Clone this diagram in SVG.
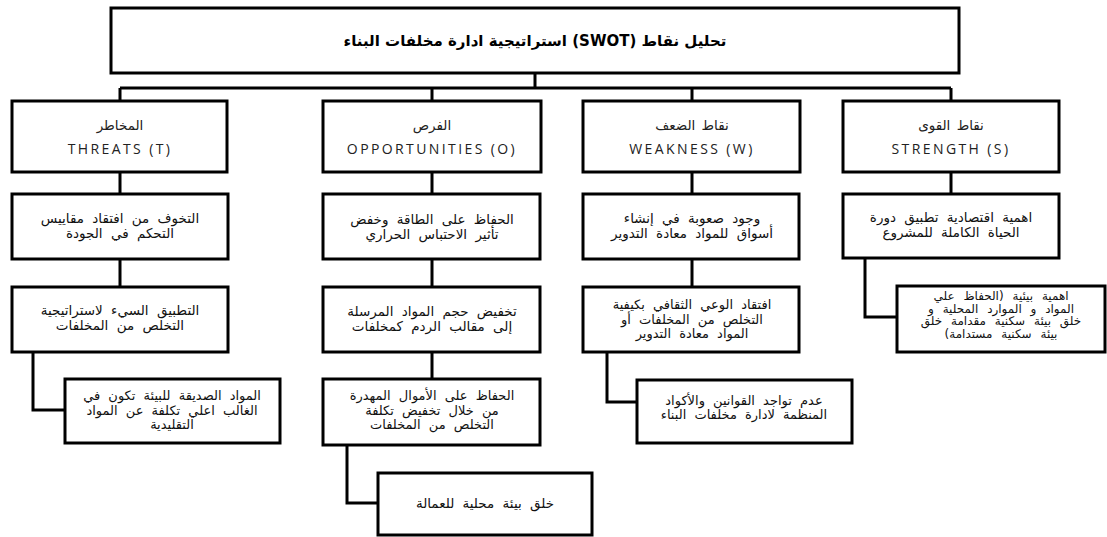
<svg xmlns="http://www.w3.org/2000/svg" width="1107" height="537" viewBox="0 0 1107 537">
<style>
.box{fill:#fff;stroke:#000;stroke-width:3}
.ln{fill:none;stroke:#000;stroke-width:3}
.ar{font-family:"DejaVu Sans",sans-serif;font-size:13.5px;word-spacing:4px;direction:rtl;text-anchor:middle;fill:#111}
.a3{font-size:13px}
.sm{font-size:12px;word-spacing:5px}
.hd{font-family:"DejaVu Sans",sans-serif;font-size:13.5px;word-spacing:2px;direction:rtl;text-anchor:middle;fill:#222}
.en{font-family:"Open Sans",sans-serif;font-size:14px;letter-spacing:2.4px;text-anchor:middle;fill:#222}
.tt{font-family:"DejaVu Sans",sans-serif;font-size:15px;font-weight:bold;direction:rtl;text-anchor:middle;fill:#000}
</style>
<rect width="1107" height="537" fill="#fff"/>
<g id="connectors">
<path class="ln" d="M535 73V88M120 88H951M120 88V101M432 88V101M692 88V101M951 88V101"/>
<path class="ln" d="M120 172V194M432 172V194M692 172V194M951 172V194"/>
<path class="ln" d="M120 259V287M432 259V287M692 259V287M432 352V379"/>
<path class="ln" d="M33 352V410H65M347 445V503H378M607 352V402H637M865 258V317H897"/>
</g>
<g id="title"><rect class="box" x="111" y="8" width="848" height="65"/><text class="tt" x="535" y="46">تحليل نقاط (SWOT) استراتيجية ادارة مخلفات البناء</text></g>
<g id="threats"><rect class="box" x="12" y="101" width="215" height="71"/><text class="hd" x="120" y="130">المخاطر</text><text class="en" x="120" y="154">THREATS (T)</text></g>
<g id="opportunities"><rect class="box" x="323" y="101" width="218" height="71"/><text class="hd" x="432" y="130">الفرص</text><text class="en" x="432" y="154">OPPORTUNITIES (O)</text></g>
<g id="weakness"><rect class="box" x="583" y="101" width="217" height="71"/><text class="hd" x="692" y="130">نقاط الضعف</text><text class="en" x="692" y="154">WEAKNESS (W)</text></g>
<g id="strength"><rect class="box" x="843" y="101" width="216" height="71"/><text class="hd" x="951" y="130">نقاط القوى</text><text class="en" x="951" y="154">STRENGTH (S)</text></g>
<g id="t1"><rect class="box" x="12" y="194" width="216" height="65"/><text class="ar" x="120" y="223">التخوف من افتقاد مقاييس</text><text class="ar" x="120" y="238">التحكم في الجودة</text></g>
<g id="t2"><rect class="box" x="12" y="287" width="216" height="65"/><text class="ar" x="120" y="315">التطبيق السيء لاستراتيجية</text><text class="ar" x="120" y="330">التخلص من المخلفات</text></g>
<g id="t3"><rect class="box" x="65" y="379" width="215" height="64"/><text class="ar a3" x="172" y="400">المواد الصديقة للبيئة تكون في</text><text class="ar a3" x="172" y="414.5">الغالب اعلي تكلفة عن المواد</text><text class="ar a3" x="172" y="429">التقليدية</text></g>
<g id="o1"><rect class="box" x="323" y="194" width="217" height="65"/><text class="ar" x="432" y="224">الحفاظ على الطاقة وخفض</text><text class="ar" x="432" y="239">تأثير الاحتباس الحراري</text></g>
<g id="o2"><rect class="box" x="323" y="287" width="217" height="65"/><text class="ar" x="432" y="316">تخفيض حجم المواد المرسلة</text><text class="ar" x="432" y="331">إلى مقالب الردم كمخلفات</text></g>
<g id="o3"><rect class="box" x="323" y="379" width="217" height="66"/><text class="ar a3" x="432" y="400">الحفاظ على الأموال المهدرة</text><text class="ar a3" x="432" y="414.5">من خلال تخفيض تكلفة</text><text class="ar a3" x="432" y="429">التخلص من المخلفات</text></g>
<g id="o4"><rect class="box" x="378" y="473" width="214" height="62"/><text class="ar" x="485" y="508">خلق بيئة محلية للعمالة</text></g>
<g id="w1"><rect class="box" x="583" y="194" width="216" height="65"/><text class="ar" x="692" y="223">وجود صعوبة في إنشاء</text><text class="ar" x="692" y="238">أسواق للمواد معادة التدوير</text></g>
<g id="w2"><rect class="box" x="583" y="287" width="216" height="65"/><text class="ar a3" x="692" y="309">افتقاد الوعي الثقافي بكيفية</text><text class="ar a3" x="692" y="323.5">التخلص من المخلفات أو</text><text class="ar a3" x="692" y="338">المواد معادة التدوير</text></g>
<g id="w3"><rect class="box" x="637" y="380" width="215" height="63"/><text class="ar a3" x="744" y="405">عدم تواجد القوانين والأكواد</text><text class="ar a3" x="744" y="419">المنظمة لادارة مخلفات البناء</text></g>
<g id="s1"><rect class="box" x="843" y="194" width="216" height="64"/><text class="ar" x="951" y="222">اهمية اقتصادية تطبيق دورة</text><text class="ar" x="951" y="237">الحياة الكاملة للمشروع</text></g>
<g id="s2"><rect class="box" x="897" y="286" width="208" height="66"/><text class="ar sm" x="1001" y="300">اهمية بيئية (الحفاظ علي</text><text class="ar sm" x="1001" y="312.5">المواد و الموارد المحلية و</text><text class="ar sm" x="1001" y="325">خلق بيئة سكنية مقدامة خلق</text><text class="ar sm" x="1001" y="337.5">بيئة سكنية مستدامة)</text></g>
</svg>
